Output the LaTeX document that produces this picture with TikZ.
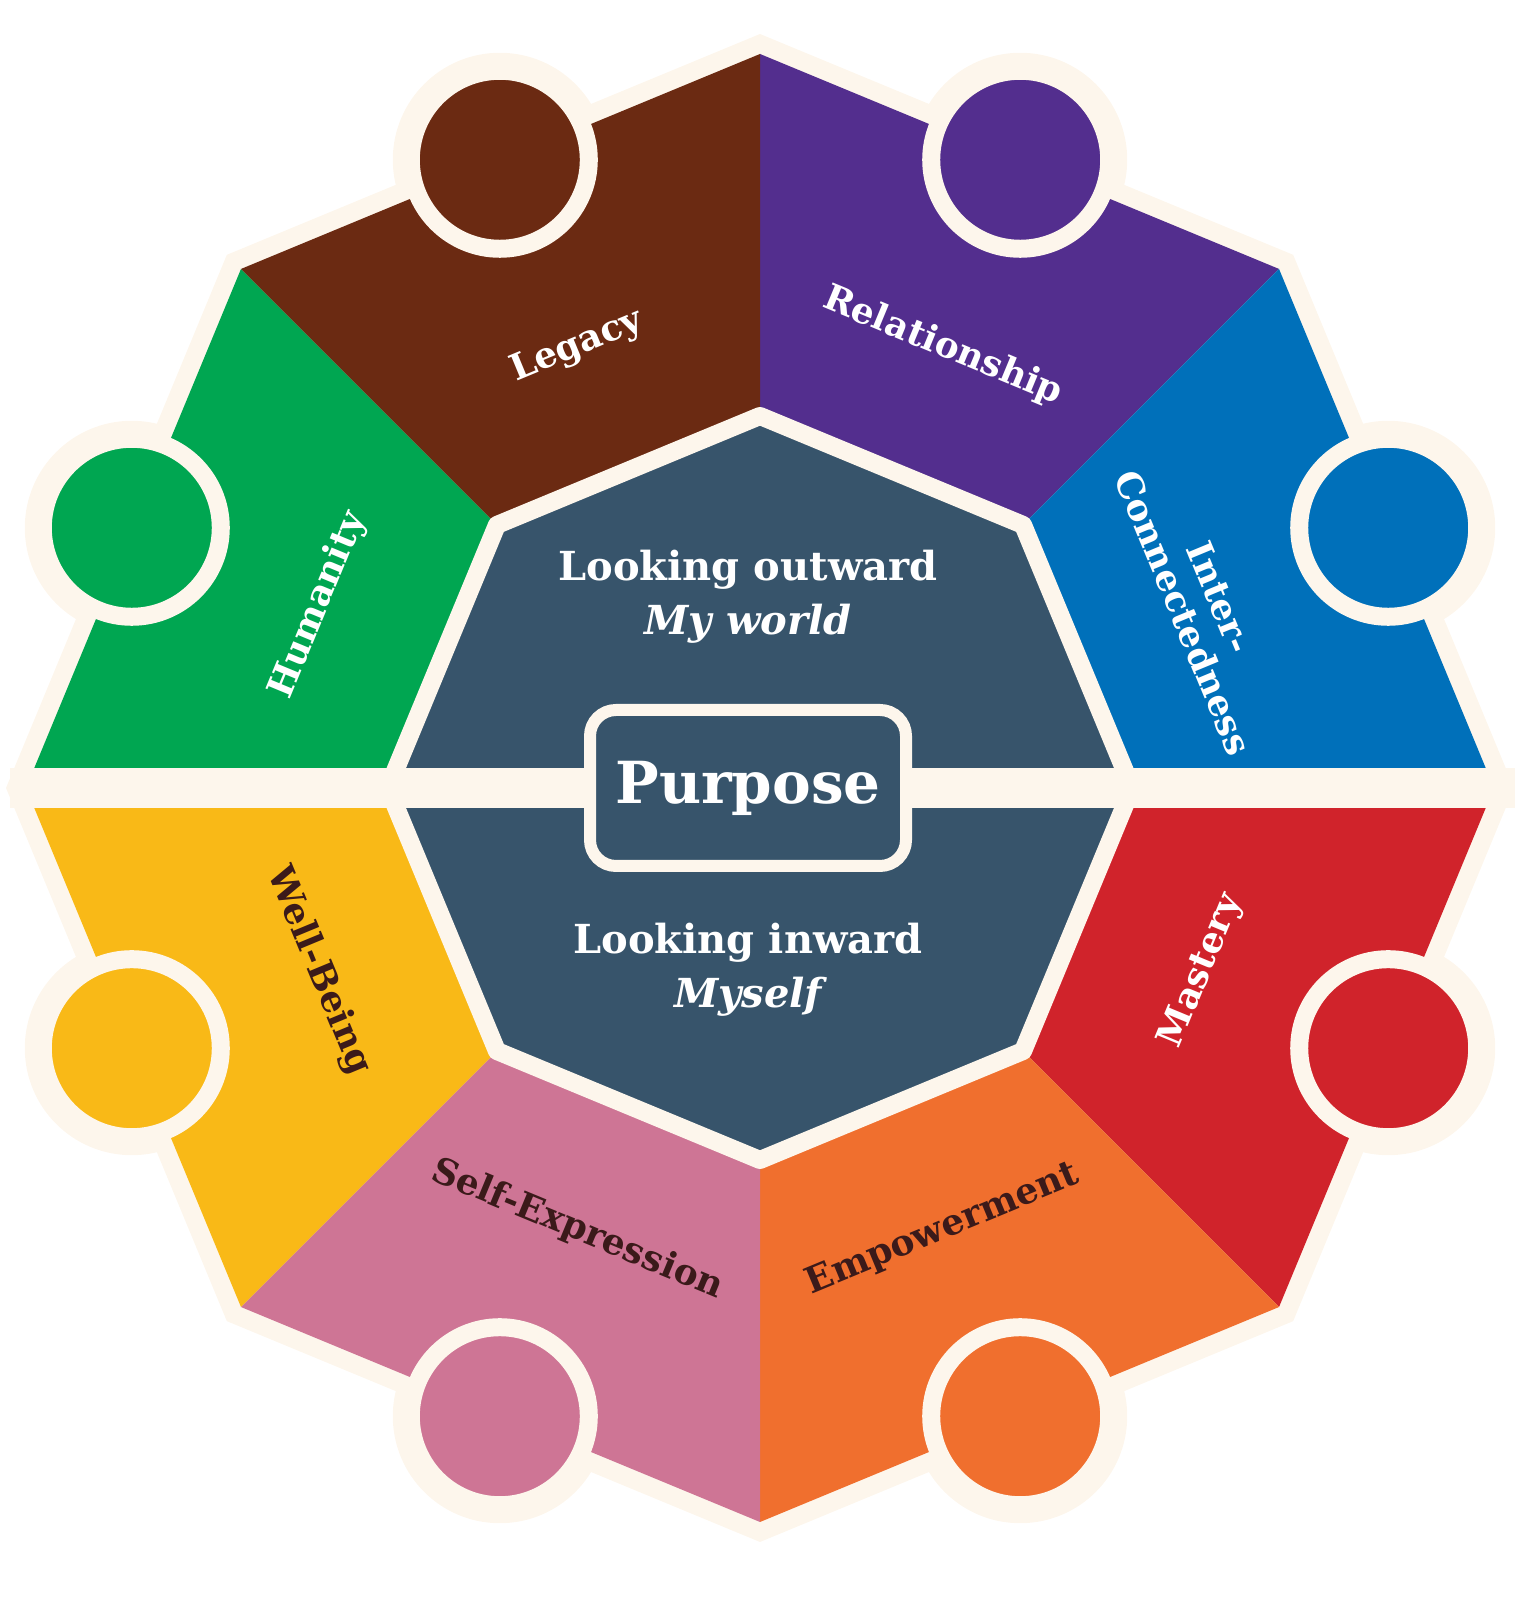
\documentclass[tikz,border=0pt]{standalone}
\usepackage{fontspec}
\setmainfont{DejaVu Serif}
\usetikzlibrary{calc}
\definecolor{cream}{HTML}{FDF6EC}
\definecolor{cLegacy}{HTML}{6B2A12}
\definecolor{cRel}{HTML}{532E8E}
\definecolor{cInter}{HTML}{0070BA}
\definecolor{cMastery}{HTML}{D0232B}
\definecolor{cEmp}{HTML}{F06F2E}
\definecolor{cSelf}{HTML}{CE7595}
\definecolor{cWell}{HTML}{F9B917}
\definecolor{cHum}{HTML}{00A651}
\definecolor{cCenter}{HTML}{37546B}
\definecolor{dtext}{HTML}{3B1A1A}
\begin{document}
\begin{tikzpicture}[x=1pt,y=1pt,
  lab/.style={font=\fontsize{36}{40}\selectfont\bfseries, align=center, inner sep=0},
  mid/.style={font=\fontsize{40}{54}\selectfont\bfseries, text=white, align=center, inner sep=0}]
\useasboundingbox (0,0) rectangle (1525,1600);
\coordinate (C) at (760,812);
% cream backing
\fill[cream] ($(C)+(90:754)$) \foreach \a in {45,0,-45,-90,-135,180,135} {-- ($(C)+(\a:754)$)} -- cycle;
\foreach \a in {67.5,22.5,-22.5,-67.5,-112.5,-157.5,157.5,112.5}
  \fill[cream] ($(C)+(\a:680)$) circle (107);
% sectors
\foreach \s/\c in {90/cRel,45/cInter,0/cMastery,-45/cEmp,-90/cSelf,-135/cWell,180/cHum,135/cLegacy}{
  \pgfmathsetmacro{\e}{\s-45}
  \fill[\c] (C) -- ($(C)+(\s:734)$) -- ($(C)+(\e:734)$) -- cycle;
  \pgfmathsetmacro{\m}{\s-22.5}
  \fill[\c, draw=cream, line width=18] ($(C)+(\m:680)$) circle (89);
}
% stripe
\fill[cream] (10,792) rectangle (1515,832);
% center octagon
\fill[cCenter, draw=cream, line width=18, line join=round] ($(C)+(90:372)$) \foreach \a in {45,0,-45,-90,-135,180,135} {-- ($(C)+(\a:372)$)} -- cycle;
\fill[cream] (380,792) rectangle (1140,832);
\node[draw=cream, line width=12, fill=cCenter, rounded corners=26, minimum width=316, minimum height=156, text=white, font=\fontsize{58}{60}\selectfont\bfseries] (purpose) at (748,812) {Purpose};
\node[mid] (out) at (748,1003) {Looking outward\\\itshape My world};
\node[mid] (in) at (748,630) {Looking inward\\\itshape Myself};
% labels
\node[lab, text=white, rotate=22.5] (legacy) at ($(C)+(112.5:478)$) {Legacy};
\node[lab, text=white, rotate=-22.5] (rel) at ($(C)+(67.5:478)$) {Relationship};
\node[lab, text=white, rotate=-67.5] (inter) at ($(C)+(22.5:478)$) {Inter-\\Connectedness};
\node[lab, text=white, rotate=67.5] (mastery) at ($(C)+(-22.5:478)$) {Mastery};
\node[lab, text=dtext, rotate=22.5] (emp) at ($(C)+(-67.5:478)$) {Empowerment};
\node[lab, text=dtext, rotate=-22.5] (selfx) at ($(C)+(-112.5:478)$) {Self-Expression};
\node[lab, text=dtext, rotate=-67.5] (well) at ($(C)+(-157.5:478)$) {Well-Being};
\node[lab, text=white, rotate=67.5] (hum) at ($(C)+(157.5:478)$) {Humanity};
\end{tikzpicture}
\end{document}
